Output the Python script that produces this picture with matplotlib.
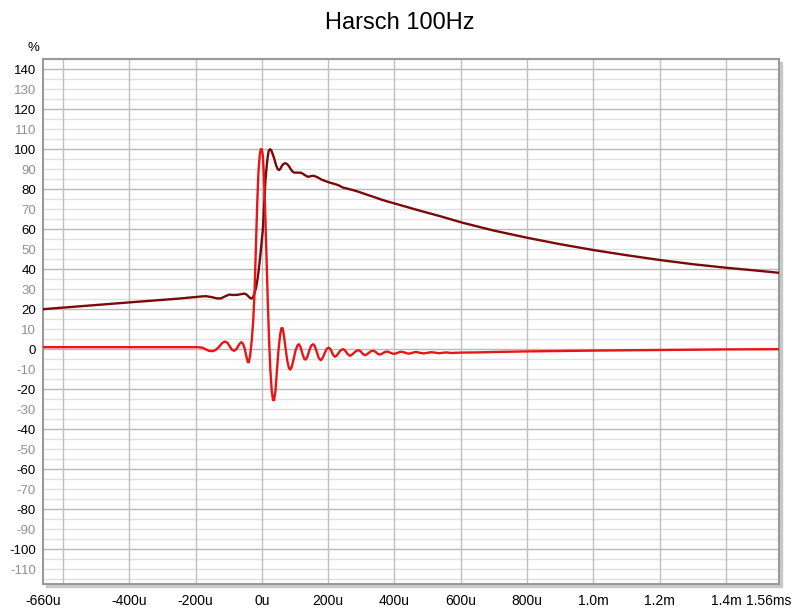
import matplotlib.pyplot as plt
import matplotlib.transforms as mtransforms
from matplotlib.patches import Rectangle

plt.rcParams['font.family'] = ['Liberation Sans', 'DejaVu Sans']

# time in microseconds, value in %
red_t = [-660, -300, -195, -180, -170, -160, -150, -140, -130, -120, -112, -104, -97, -90, -83,
         -76, -68, -62, -57, -52, -46, -42, -39, -35, -30, -26, -22, -18, -14, -10, -6, -3, 0,
         3, 6, 10, 14, 18, 22, 26, 30, 34, 37, 41, 45, 50, 55, 59, 63, 67, 72, 77, 82, 86, 90,
         96, 102, 108, 112, 117, 123, 128, 132, 137, 143, 149, 155, 160, 166, 172, 178, 184,
         190, 196, 202, 208, 214, 220, 226, 233, 240, 246, 252, 259, 266, 273, 280, 287, 293,
         299, 305, 311, 318, 324, 331, 337, 343, 349, 355, 361, 367, 373, 379, 384, 394, 399,
         405, 416, 422, 428, 439, 444, 450, 460, 466, 477, 488, 499, 511, 522, 533, 545, 557,
         570, 585, 600, 650, 700, 800, 1000, 1200, 1400, 1560]
red_v = [1, 1, 1, 0.8, 0, -0.8, -1, -0.5, 1, 3, 3.8, 3.3, 1.5, -0.3, -0.8,
         0.2, 2.5, 3.5, 2.8, 0.5, -4, -6.5, -6.5, -3, 5, 14, 28, 50, 72, 89, 97.5, 100, 100,
         97, 88, 70, 47, 24, 4, -11, -21, -25.5, -25.5, -21, -12, -1, 7, 10.5, 10.5, 6.5, 0, -6, -9.5, -10.2, -9,
         -5, -0.5, 2, 2.5, 1, -2.5, -4.8, -5.2, -4, -0.8, 1.8, 2.5, 1.5, -1.5, -4.5, -5.5, -4.2,
         -1.8, 0.2, 0.8, -0.2, -2.5, -3.8, -3.2, -1.5, -0.3, 0, -0.8, -2.5, -3.3, -2.6, -1.5, -0.7, -0.5,
         -1.2, -2.4, -3, -2.5, -1.6, -0.9, -0.8, -1.3, -2.2, -2.7, -2.4, -1.8, -1.3, -1.2, -1.5, -2.2, -2.3,
         -2.1, -1.4, -1.3, -1.5, -2.1, -2.2, -2, -1.5, -1.4, -1.8, -2.1, -1.8, -1.5, -1.7, -2, -1.8, -1.6,
         -1.9, -1.8, -1.7, -1.6, -1.4, -1.1, -0.7, -0.4, -0.1, 0]

dark_t = [-660, -400, -250, -199, -180, -168, -150, -135, -123, -110, -98, -85, -73, -60, -52,
          -45, -38, -32, -27, -22, -17, -12, -7, -2, 3, 7, 11, 15, 18, 21, 25, 29, 33, 38, 43,
          48, 52, 56, 61, 66, 71, 76, 82, 88, 94, 99, 110, 119, 125, 130, 139, 145, 150, 155,
          160, 170, 180, 193, 205, 218, 231, 245, 260, 276, 290, 301, 316, 331, 357, 380, 402,
          440, 478, 538, 604, 700, 801, 900, 1003, 1100, 1205, 1300, 1402, 1480, 1560]
dark_v = [20, 23.4, 25.3, 26.1, 26.4, 26.5, 26, 25.4, 25.4, 26.5, 27.3, 27.1, 27.2, 27.6, 27.8,
          27.2, 26, 25.3, 25.8, 28, 31, 36, 43, 51, 59.5, 72, 84.5, 92, 96.5, 99.3, 100, 99.3, 97.5, 95, 92,
          90, 89.6, 90.2, 91.8, 92.7, 93, 92.6, 91.5, 89.8, 88.6, 88.3, 88.3, 88.2, 87.6, 87, 86.2, 86.4, 86.6, 86.7,
          86.5, 85.8, 84.8, 84, 83.3, 82.7, 82, 80.8, 80.2, 79.5, 78.8, 78.2, 77.3, 76.5, 75, 73.8, 72.8,
          71, 69.2, 66.5, 63.3, 59.3, 55.7, 52.5, 49.5, 47, 44.5, 42.5, 40.7, 39.5, 38.2]

x_tick_pos = [-660, -400, -200, 0, 200, 400, 600, 800, 1000, 1200, 1400, 1560]
x_tick_lab = ['-660u', '-400u', '-200u', '0u', '200u', '400u', '600u', '800u',
              '1.0m', '1.2m', '1.4m', '1.56ms']
y_tick_pos = list(range(-110, 141, 10))

fig = plt.figure(figsize=(8, 6.09), dpi=100)
ax = fig.add_axes([43 / 800, 1 - 584 / 609, 736 / 800, 525 / 609])

# drop shadow of the frame
shadow = Rectangle((46 / 800, 1 - 587 / 609), 736 / 800, 525 / 609,
                   transform=fig.transFigure, color='#c8c8c8', zorder=-1)
fig.patches.append(shadow)
ax.set_facecolor('white')

ax.set_xlim(-660, 1560)
ax.set_ylim(-117.4, 145.1)

for y in range(-115, 146, 5):
    if y % 20 == 0:
        ax.axhline(y, color='#b9b9b9', lw=1, zorder=0)
    else:
        ax.axhline(y, color='#e0e0e0', lw=1, zorder=0)
for x in range(-600, 1401, 200):
    ax.axvline(x, color='#c0c0c0', lw=1, zorder=0)

ax.plot(dark_t, dark_v, color='#7a0a0a', lw=1.7, zorder=3, solid_joinstyle='round')
ax.plot(red_t, red_v, color='#e81515', lw=1.7, zorder=4, solid_joinstyle='round')

ax.set_xticks(x_tick_pos)
ax.set_xticklabels(x_tick_lab, fontsize=10)
ax.set_yticks(y_tick_pos)
ax.set_yticklabels([str(v) for v in y_tick_pos], fontsize=9.5)
for lab, v in zip(ax.get_yticklabels(), y_tick_pos):
    lab.set_color('black' if v % 20 == 0 else '#909090')
ax.tick_params(length=0, pad=5)
ax.tick_params(axis='x', pad=7)
last = ax.get_xticklabels()[-1]
last.set_transform(last.get_transform() + mtransforms.ScaledTranslation(-0.1, 0, fig.dpi_scale_trans))

for s in ax.spines.values():
    s.set_color('#9a9a9a')
    s.set_linewidth(1.5)

fig.text(0.5, 1 - 23 / 609, 'Harsch 100Hz', ha='center', va='center', fontsize=17)
fig.text(33 / 800, 1 - 48 / 609, '%', ha='center', va='center', fontsize=9.5)

fig.savefig('out.png', dpi=100)
